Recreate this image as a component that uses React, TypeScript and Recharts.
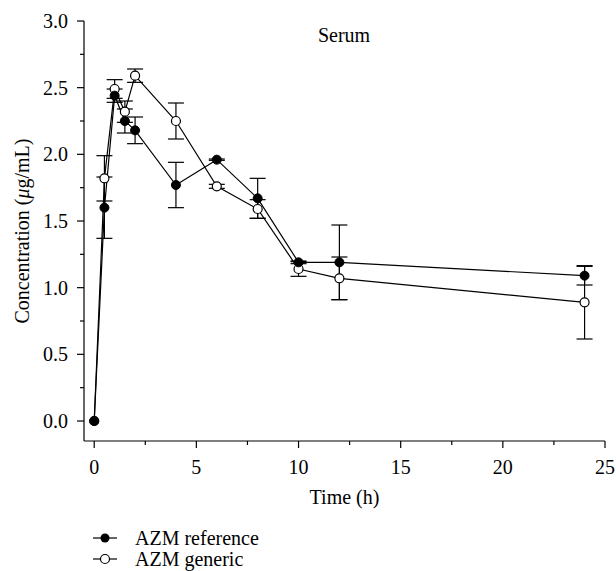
import React from "react";
import { LineChart, Line, XAxis, YAxis, ErrorBar, Legend, Customized } from "recharts";

const times = [0, 0.5, 1, 1.5, 2, 4, 6, 8, 10, 12, 24];
const refValues = [0, 1.6, 2.44, 2.25, 2.18, 1.77, 1.96, 1.67, 1.19, 1.19, 1.09];
const refErrors = [0, 0.23, 0.05, 0.09, 0.1, 0.17, 0.005, 0.15, 0.01, 0.28, 0.07];
const genValues = [0, 1.82, 2.49, 2.32, 2.59, 2.25, 1.76, 1.59, 1.14, 1.07, 0.89];
const genErrors = [0, 0.17, 0.07, 0.08, 0.05, 0.135, 0.015, 0.07, 0.055, 0.16, 0.275];

const xTicks = [0, 2.5, 5, 7.5, 10, 12.5, 15, 17.5, 20, 22.5, 25];
const yTicks = [0, 0.25, 0.5, 0.75, 1, 1.25, 1.5, 1.75, 2, 2.25, 2.5, 2.75, 3];

const data = times.map((t, i) => ({
    time: t,
    ref: refValues[i],
    refErr: refErrors[i],
    gen: genValues[i],
    genErr: genErrors[i],
}));

const FONT = '"Liberation Serif", "Times New Roman", serif';
const FS = 20;
const txt = { fontFamily: FONT, fontSize: FS, fill: "#000" };

const YTick = (props: any) => {
    const { x, y, payload } = props;
    const v = payload.value;
    const major = Math.abs(v * 2 - Math.round(v * 2)) < 1e-6;
    return (
        <g>
            <line x1={x - (major ? 7 : 4)} x2={x} y1={y} y2={y} stroke="#000" strokeWidth={1.2} />
            {major && (
                <text x={x - 16} y={y} textAnchor="end" dominantBaseline="central" style={txt}>
                    {v.toFixed(1)}
                </text>
            )}
        </g>
    );
};

const XTick = (props: any) => {
    const { x, y, payload } = props;
    const v = payload.value;
    const major = v % 5 === 0;
    return (
        <g>
            <line x1={x} x2={x} y1={y} y2={y + (major ? 7 : 4)} stroke="#000" strokeWidth={1.2} />
            {major && (
                <text x={x} y={y + 26} textAnchor="middle" dominantBaseline="central" style={txt}>
                    {v}
                </text>
            )}
        </g>
    );
};

// legend is drawn by hand, marker line + circle like the original figure
const LegendBox = () => (
    <svg width={220} height={50} style={{ display: "block" }}>
        <line x1={3} x2={27} y1={17} y2={17} stroke="#000" strokeWidth={1.2} />
        <circle cx={15} cy={17} r={4.5} fill="#000" />
        <text x={45} y={17} dominantBaseline="central" style={txt}>AZM reference</text>
        <line x1={3} x2={27} y1={38} y2={38} stroke="#000" strokeWidth={1.2} />
        <circle cx={15} cy={38} r={4.5} fill="#fff" stroke="#000" strokeWidth={1.2} />
        <text x={45} y={38} dominantBaseline="central" style={txt}>AZM generic</text>
    </svg>
);

export default function App() {
    return (
        <div style={{ position: "absolute", left: 0, top: 0, width: 616, height: 571, background: "#fff" }}>
            <LineChart width={616} height={571} data={data} margin={{ top: 21, right: 11, left: 24, bottom: 0 }}>
                <XAxis
                    dataKey="time"
                    type="number"
                    domain={[-0.5, 25]}
                    ticks={xTicks}
                    interval={0}
                    allowDataOverflow
                    height={80}
                    tickSize={0}
                    tickMargin={0}
                    tickLine={false}
                    axisLine={{ stroke: "#000", strokeWidth: 1.2 }}
                    tick={<XTick />}
                    label={(p: any) => {
                        const vb = p.viewBox;
                        return (
                            <text x={vb.x + vb.width / 2} y={vb.y + 56} textAnchor="middle" dominantBaseline="central" style={txt}>
                                Time (h)
                            </text>
                        );
                    }}
                />
                <YAxis
                    type="number"
                    domain={[-0.15, 3]}
                    ticks={yTicks}
                    interval={0}
                    allowDataOverflow
                    width={60}
                    tickSize={0}
                    tickMargin={0}
                    tickLine={false}
                    axisLine={{ stroke: "#000", strokeWidth: 1.2 }}
                    tick={<YTick />}
                    label={(p: any) => {
                        const vb = p.viewBox;
                        const cx = vb.x - 2;
                        const cy = vb.y + vb.height / 2;
                        return (
                            <text x={cx} y={cy} transform={`rotate(-90 ${cx} ${cy})`} textAnchor="middle" dominantBaseline="central" style={txt}>
                                Concentration (<tspan fontStyle="italic">μ</tspan>g/mL)
                            </text>
                        );
                    }}
                />
                <Line
                    dataKey="gen"
                    type="linear"
                    stroke="#000"
                    strokeWidth={1.2}
                    dot={{ r: 4.5, fill: "#fff", stroke: "#000", strokeWidth: 1.2 }}
                    activeDot={false}
                    isAnimationActive={false}
                >
                    <ErrorBar dataKey="genErr" direction="y" width={8} stroke="#000" strokeWidth={1.2} />
                </Line>
                <Line
                    dataKey="ref"
                    type="linear"
                    stroke="#000"
                    strokeWidth={1.2}
                    dot={{ r: 4.5, fill: "#000", stroke: "#000", strokeWidth: 1 }}
                    activeDot={false}
                    isAnimationActive={false}
                >
                    <ErrorBar dataKey="refErr" direction="y" width={8} stroke="#000" strokeWidth={1.2} />
                </Line>
                <Legend
                    layout="horizontal"
                    verticalAlign="bottom"
                    align="left"
                    content={() => <LegendBox />}
                    wrapperStyle={{ left: 90, bottom: 0, width: 220, height: 50 }}
                />
                <Customized
                    component={() => (
                        <text x={344} y={35} textAnchor="middle" dominantBaseline="central" style={txt}>
                            Serum
                        </text>
                    )}
                />
            </LineChart>
        </div>
    );
}
